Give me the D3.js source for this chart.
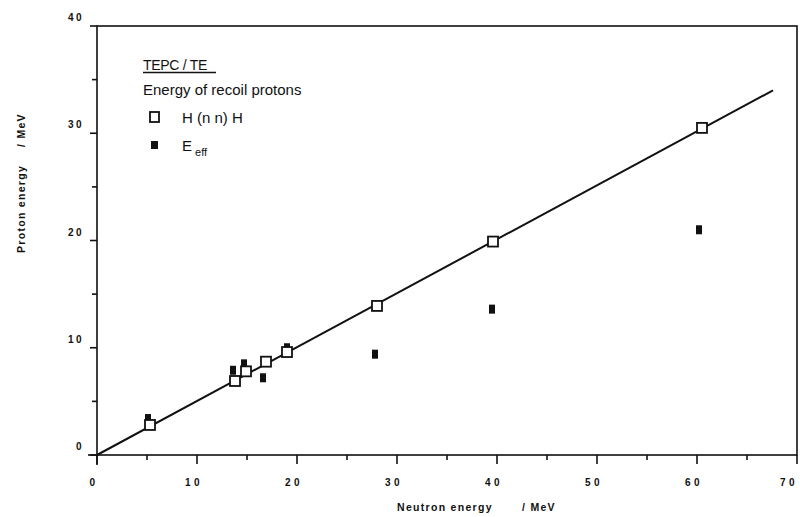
<!DOCTYPE html>
<html><head><meta charset="utf-8">
<script src="https://cdn.jsdelivr.net/npm/d3@7"></script>
<style>body{margin:0;background:#fff}svg{display:block}text{font-family:"Liberation Sans",Arial,sans-serif;fill:#111}</style>
</head><body>
<svg id="c" width="800" height="517"></svg>
<script>
// H(n,n)H recoil proton energies (open squares)
const hnnX = [5.3, 13.8, 14.9, 16.9, 19.0, 28.0, 39.6, 60.5];
const hnnY = [2.8, 6.9, 7.8, 8.7, 9.6, 13.9, 19.9, 30.5];
// E_eff (filled squares)
const effX = [5.1, 13.6, 14.7, 16.6, 19.0, 27.8, 39.5, 60.2];
const effY = [3.4, 7.9, 8.5, 7.2, 10.0, 9.4, 13.6, 21.0];
// fitted line
const fitX = [0, 67.6];
const fitY = [0, 34.0];
const xTicks = [0, 10, 20, 30, 40, 50, 60, 70];
const yTicks = [0, 10, 20, 30, 40];
const xMinor = [5, 15, 25, 35, 45, 55, 65];
const yMinor = [5, 15, 25, 35];

const svg = d3.select("#c");
const L = 97, R = 797, T = 26, B = 455;
const x = d3.scaleLinear().domain([0, 70]).range([L, R]);
const y = d3.scaleLinear().domain([0, 40]).range([B, T]);
const ink = "#111";

// frame
svg.append("rect").attr("x", L).attr("y", T).attr("width", R - L).attr("height", B - T)
  .attr("fill", "none").attr("stroke", ink).attr("stroke-width", 1.6);
// axis extensions
svg.append("line").attr("x1", L - 9).attr("x2", L).attr("y1", B).attr("y2", B).attr("stroke", ink).attr("stroke-width", 1.6);
svg.append("line").attr("x1", L).attr("x2", L).attr("y1", B).attr("y2", B + 10).attr("stroke", ink).attr("stroke-width", 1.6);

// ticks
const tg = svg.append("g").attr("stroke", ink).attr("stroke-width", 1.6);
tg.selectAll(".xM").data(xTicks).join("line").attr("class", "xM")
  .attr("x1", d => x(d)).attr("x2", d => x(d)).attr("y1", B).attr("y2", B + 9);
tg.selectAll(".xm").data(xMinor).join("line").attr("class", "xm")
  .attr("x1", d => x(d)).attr("x2", d => x(d)).attr("y1", B).attr("y2", B + 5);
tg.selectAll(".yM").data(yTicks).join("line").attr("class", "yM")
  .attr("x1", L - 7).attr("x2", L).attr("y1", d => y(d)).attr("y2", d => y(d));
tg.selectAll(".ym").data(yMinor).join("line").attr("class", "ym")
  .attr("x1", L - 5).attr("x2", L).attr("y1", d => y(d)).attr("y2", d => y(d));

svg.append("g").selectAll("text").data(xTicks).join("text")
  .attr("x", d => Math.min(x(d) - 3, 789)).attr("y", 486).attr("text-anchor", "middle")
  .attr("font-size", 10).attr("font-weight", "bold").attr("letter-spacing", 3.5).text(d => d);
svg.append("g").selectAll("text").data(yTicks).join("text")
  .attr("x", 84).attr("y", d => y(d) - 5).attr("text-anchor", "end")
  .attr("font-size", 10).attr("font-weight", "bold").attr("letter-spacing", 2.5).text(d => d);

// axis titles
const xt = svg.append("text").attr("y", 511).attr("font-size", 10.5).attr("font-weight", "bold").attr("letter-spacing", 1.3);
xt.append("tspan").attr("x", 397).text("Neutron energy");
xt.append("tspan").attr("x", 522).text("/ MeV");
const yt = svg.append("text").attr("transform", "translate(25,0) rotate(-90)").attr("font-size", 10.5).attr("font-weight", "bold").attr("letter-spacing", 1.3);
yt.append("tspan").attr("x", -253).text("Proton energy");
yt.append("tspan").attr("x", -147).text("/ MeV");

// fit line
svg.append("path").datum(fitX.map((d, i) => [d, fitY[i]]))
  .attr("d", d3.line().x(d => x(d[0])).y(d => y(d[1])))
  .attr("fill", "none").attr("stroke", ink).attr("stroke-width", 2);

// E_eff filled
const fw = 6, fh = 9;
svg.append("g").selectAll("rect").data(effX.map((d, i) => [d, effY[i]])).join("rect")
  .attr("x", d => x(d[0]) - fw / 2).attr("y", d => y(d[1]) - fh / 2)
  .attr("width", fw).attr("height", fh).attr("fill", ink);

// H(n,n)H open
const s = 10;
svg.append("g").selectAll("rect").data(hnnX.map((d, i) => [d, hnnY[i]])).join("rect")
  .attr("x", d => x(d[0]) - s / 2).attr("y", d => y(d[1]) - s / 2)
  .attr("width", s).attr("height", s).attr("fill", "#fff").attr("stroke", ink).attr("stroke-width", 1.8);

// legend
svg.append("text").attr("x", 143).attr("y", 70).attr("font-size", 14).attr("letter-spacing", -0.3).text("TEPC / TE");
svg.append("line").attr("x1", 143).attr("x2", 216).attr("y1", 72.5).attr("y2", 72.5).attr("stroke", ink).attr("stroke-width", 1.3);
svg.append("text").attr("x", 143).attr("y", 95).attr("font-size", 15).text("Energy of recoil protons");
svg.append("rect").attr("x", 150).attr("y", 112).attr("width", 9).attr("height", 10)
  .attr("fill", "#fff").attr("stroke", ink).attr("stroke-width", 1.8);
svg.append("text").attr("x", 182).attr("y", 123).attr("font-size", 15).text("H (n n) H");
svg.append("rect").attr("x", 151).attr("y", 141).attr("width", 7).attr("height", 8).attr("fill", ink);
const et = svg.append("text").attr("x", 182).attr("y", 151).attr("font-size", 15);
et.append("tspan").text("E");
et.append("tspan").attr("dx", 3).attr("dy", 5).attr("font-size", 11).text("eff");
</script>
</body></html>
